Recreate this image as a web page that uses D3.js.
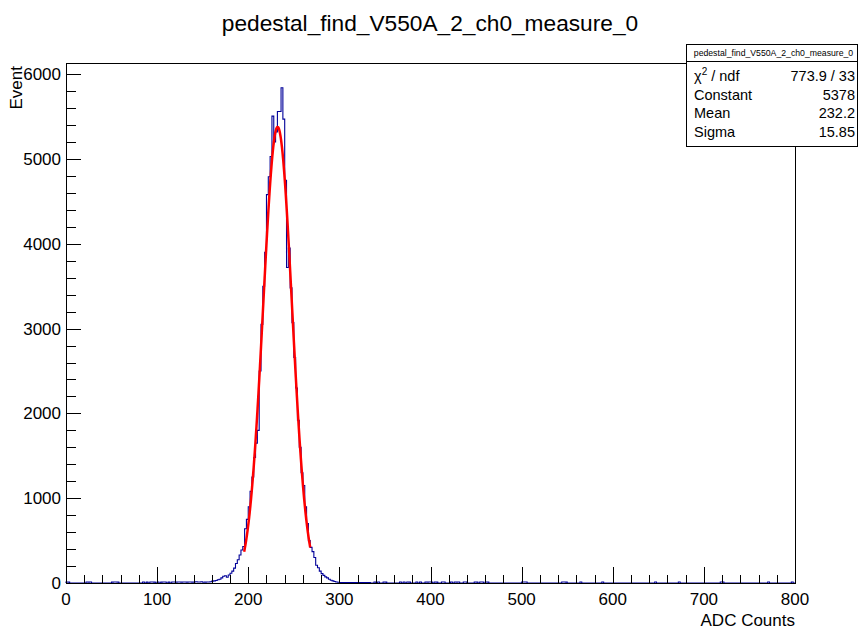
<!DOCTYPE html>
<html><head><meta charset="utf-8">
<script src="https://cdn.jsdelivr.net/npm/d3@7"></script>
<style>
html,body{margin:0;padding:0;background:#fff;}
text{font-family:"Liberation Sans",Arial,Helvetica,sans-serif;fill:#000;}
</style></head>
<body>
<svg id="c" width="858" height="630"></svg>
<script>
// ---------------- data ----------------
const chartTitle = "pedestal_find_V550A_2_ch0_measure_0";
const xLabel = "ADC Counts";
const yLabel = "Event";
const binWidth = 2;
const xMin = 0, xMax = 800;
const xTicks = [0,100,200,300,400,500,600,700,800];
const yTicks = [0,1000,2000,3000,4000,5000,6000];
// contiguous core of the histogram, bins starting at coreStart
const coreStart = 150;
const coreCounts = [
  8,10,12,12,15,22,25,30,38,45,
  60,80,85,68,95,115,140,175,230,275,
  330,390,430,640,750,900,1080,1250,1480,1650,
  1800,2500,3050,3500,3900,4580,4790,5030,5505,5200,
  5320,5560,5560,5840,5470,4750,3720,3950,3480,3070,
  2660,2300,1920,1600,1300,1150,900,700,500,420,
  370,300,210,180,140,110,90,72,60,45,
  32,25,18,12,8,6
];
// sparse low-count bins away from the peak (bin start, counts)
const sparseBins = [0,2,22,24,26,50,52,54,56,84,88,92,94,96,100,104,106,108,112,116,118,120,122,124,126,128,130,132,134,136,138,140,142,144,146,148,
  302,304,306,308,310,312,314,316,318,320,322,324,326,328,330,332,338,342,348,350,366,370,374,376,384,388,394,396,398,400,404,406,412,414,
  422,426,428,430,436,438,448,450,454,456,460,462,500,502,504,544,546,548,564,588,646,672,718,720,770,796];
const sparseCounts = [12,10,12,10,12,10,12,12,10,12,10,12,12,10,12,10,12,12,10,12,12,10,12,12,10,12,12,10,12,12,10,12,14,12,12,14,
  6,5,6,5,6,5,6,5,6,5,6,5,6,5,6,5,12,12,12,10,12,12,12,10,12,12,12,10,12,12,12,10,12,12,
  12,12,10,12,12,12,12,10,12,12,12,10,12,12,12,12,12,10,12,12,12,12,12,12,12,12];
// fit results (stats box)
const fitConstant = 5378, fitMean = 232.2, fitSigma = 15.85;
const fitRange = [195.5, 268];
const statRows = [["Constant","5378"],["Mean","232.2"],["Sigma","15.85"]];
const chi2Text = "773.9 / 33";

// ---------------- build bins ----------------
const nBins = (xMax - xMin) / binWidth;
const counts = new Array(nBins).fill(0);
sparseBins.forEach((b,i)=>{ counts[Math.round((b - xMin)/binWidth)] = sparseCounts[i]; });
coreCounts.forEach((c,i)=>{ counts[Math.round((coreStart - xMin)/binWidth) + i] = c; });
const yMax = 1.05 * d3.max(counts);

// ---------------- layout ----------------
const L = 66, R = 795, T = 63, B = 583;
const svg = d3.select("#c");
const x = d3.scaleLinear().domain([xMin, xMax]).range([L, R]);
const y = d3.scaleLinear().domain([0, yMax]).range([B, T]);

// histogram outline
let p = d3.path();
p.moveTo(x(xMin), y(0));
counts.forEach((c,i)=>{
  const x0 = x(xMin + i*binWidth), x1 = x(xMin + (i+1)*binWidth);
  p.lineTo(x0, y(c)); p.lineTo(x1, y(c));
});
p.lineTo(x(xMax), y(0));
svg.append("path").attr("d", p.toString()).attr("fill","none")
  .attr("stroke","#000099").attr("stroke-width",1.1);

// fit curve
const fitPts = d3.range(0, 301).map(k => {
  const v = fitRange[0] + (fitRange[1]-fitRange[0])*k/300;
  return [v, fitConstant*Math.exp(-0.5*Math.pow((v-fitMean)/fitSigma,2))];
});
svg.append("path").attr("d", d3.line().x(d=>x(d[0])).y(d=>y(d[1]))(fitPts))
  .attr("fill","none").attr("stroke","#ff0000").attr("stroke-width",2.5);

// frame
svg.append("rect").attr("x",L+0.5).attr("y",T+0.5).attr("width",R-L).attr("height",B-T)
  .attr("fill","none").attr("stroke","#000").attr("stroke-width",1);

// x axis ticks
const xMinor = d3.range(xMin, xMax+0.001, 20);
xMinor.forEach(v=>{
  const major = (v % 100) === 0;
  svg.append("line").attr("x1",Math.round(x(v))+0.5).attr("x2",Math.round(x(v))+0.5)
    .attr("y1",B).attr("y2",B-(major?16:8)).attr("stroke","#000").attr("stroke-width",1);
});
xTicks.forEach(v=>{
  svg.append("text").attr("x",x(v)).attr("y",605).attr("text-anchor","middle")
    .attr("font-size",17).text(v);
});
// y axis ticks
const yMinor = d3.range(0, 6000.001, 200);
yMinor.forEach(v=>{
  const major = (v % 1000) === 0;
  svg.append("line").attr("y1",Math.round(y(v))+0.5).attr("y2",Math.round(y(v))+0.5)
    .attr("x1",L).attr("x2",L+(major?15:10)).attr("stroke","#000").attr("stroke-width",1);
});
yTicks.forEach(v=>{
  svg.append("text").attr("x",61).attr("y",y(v)+6).attr("text-anchor","end")
    .attr("font-size",17).text(v);
});

// axis titles
svg.append("text").attr("x",R).attr("y",626).attr("text-anchor","end")
  .attr("font-size",17).text(xLabel);
svg.append("text").attr("transform","translate(22,66) rotate(-90)").attr("text-anchor","end")
  .attr("font-size",17).text(yLabel);

// title
svg.append("text").attr("x",430).attr("y",31).attr("text-anchor","middle")
  .attr("font-size",22.7).text(chartTitle);

// stats box
const bx0 = 686, bx1 = 857, by0 = 44, by1 = 146, bsep = 61;
svg.append("rect").attr("x",bx0+0.5).attr("y",by0+0.5).attr("width",bx1-bx0).attr("height",by1-by0)
  .attr("fill","#fff").attr("stroke","#000").attr("stroke-width",1);
svg.append("line").attr("x1",bx0).attr("x2",bx1).attr("y1",bsep+0.5).attr("y2",bsep+0.5)
  .attr("stroke","#000");
svg.append("text").attr("x",(bx0+bx1)/2+2).attr("y",56).attr("text-anchor","middle")
  .attr("font-size",8.7).text(chartTitle);
const rowY = [81, 99.5, 118, 136.5];
const chi = svg.append("text").attr("x",694).attr("y",rowY[0]).attr("font-size",14.5);
chi.append("tspan").text("χ");
chi.append("tspan").attr("font-size",10).attr("dy",-6).text("2");
chi.append("tspan").attr("dy",6).text(" / ndf");
svg.append("text").attr("x",855).attr("y",rowY[0]).attr("text-anchor","end")
  .attr("font-size",14.5).text(chi2Text);
statRows.forEach((r,i)=>{
  svg.append("text").attr("x",694).attr("y",rowY[i+1]).attr("font-size",14.5).text(r[0]);
  svg.append("text").attr("x",855).attr("y",rowY[i+1]).attr("text-anchor","end")
    .attr("font-size",14.5).text(r[1]);
});
</script>
</body></html>
